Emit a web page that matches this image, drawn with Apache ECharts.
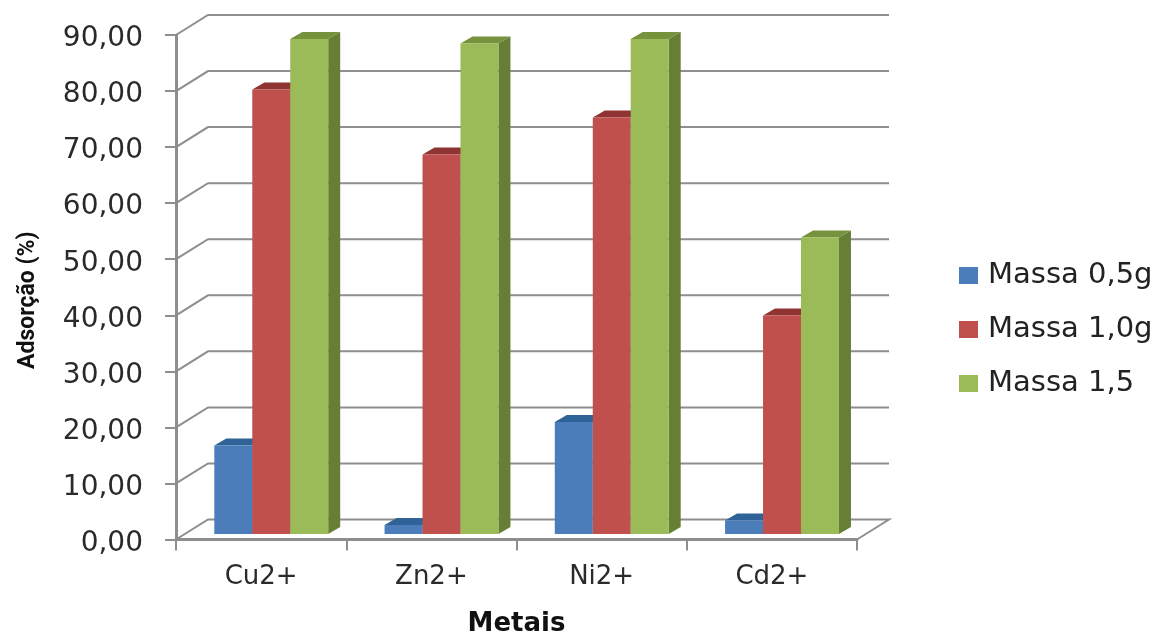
<!DOCTYPE html>
<html>
<head>
<meta charset="utf-8">
<style>html,body{margin:0;background:#fff}#c{width:1154px;height:634px}</style>
<script src="https://cdn.jsdelivr.net/npm/echarts@6/dist/echarts.min.js"></script>
</head>
<body>
<div id="c"></div>
<script>
// Metal adsorption by adsorbent mass
const metals = ['Cu2+', 'Zn2+', 'Ni2+', 'Cd2+'];
const massa05 = [15.8, 1.6, 20.0, 2.4];
const massa10 = [79.3, 67.7, 74.3, 39.0];
const massa15 = [88.3, 87.5, 88.3, 52.9];
const wallTicks = [0, 10, 20, 30, 40, 50, 60, 70, 80, 90];

const seriesNames = ['Massa 0,5g', 'Massa 1,0g', 'Massa 1,5'];
const seriesValues = [massa05, massa10, massa15];
const faces = [
  { front: '#4a7dba', top: '#2f6296', side: '#38608f' },
  { front: '#c0504d', top: '#8f3432', side: '#8f3432' },
  { front: '#9bbb59', top: '#76923c', side: '#667f35' }
];

// Oblique projection of the chart box
const WALL_DX = 32, WALL_DY = -20;
const BAR_DX = 12, BAR_DY = -7;
const FLOOR_LIFT = 5.5;
const GRID_COLOR = '#8e8e8e';

// Back wall gridlines plus the side-wall slant of each tick
function renderWall(params, api) {
  const v = api.value(0);
  const left = params.coordSys.x;
  const right = left + params.coordSys.width;
  const y = api.coord([0, v])[1];
  const style = { stroke: GRID_COLOR, lineWidth: 2, fill: null };
  const pts = [[left, y], [left + WALL_DX, y + WALL_DY], [right + WALL_DX, y + WALL_DY]];
  if (v === 0) pts.push([right, y]);
  return { type: 'polyline', shape: { points: pts }, style: style, silent: true };
}

function renderBar(seriesIdx) {
  return function (params, api) {
    const cat = api.value(0);
    const band = api.size([1, 0])[0];
    const w = band * 0.223;
    const center = api.coord([cat, 0])[0];
    const x0 = center - band * 0.275 + seriesIdx * w;
    const yBase = api.coord([cat, 0])[1] - FLOOR_LIFT;
    const yTop = api.coord([cat, api.value(1)])[1] - FLOOR_LIFT;
    const x1 = x0 + w;
    const f = faces[seriesIdx];
    return {
      type: 'group',
      children: [
        { type: 'polygon',
          shape: { points: [[x0, yTop], [x1, yTop], [x1 + BAR_DX, yTop + BAR_DY], [x0 + BAR_DX, yTop + BAR_DY]] },
          style: { fill: f.top } },
        { type: 'polygon',
          shape: { points: [[x1, yTop], [x1 + BAR_DX, yTop + BAR_DY], [x1 + BAR_DX, yBase + BAR_DY], [x1, yBase]] },
          style: { fill: f.side } },
        { type: 'rect',
          shape: { x: x0, y: yTop, width: w, height: yBase - yTop },
          style: { fill: f.front } }
      ]
    };
  };
}

const barSeries = seriesNames.map((name, i) => ({
  name: name,
  type: 'custom',
  z: 5 + i,
  itemStyle: { color: faces[i].front },
  renderItem: renderBar(i),
  encode: { x: 0, y: 1 },
  data: metals.map((m, k) => [k, seriesValues[i][k]])
}));

const chart = echarts.init(document.getElementById('c'), null, { renderer: 'canvas' });
chart.setOption({
  animation: false,
  backgroundColor: '#fff',
  grid: { left: 176, right: 297, top: 35, bottom: 94.5, containLabel: false, outerBoundsMode: 'none' },
  legend: {
    orient: 'vertical', left: 954, top: 256,
    icon: 'rect', itemWidth: 19, itemHeight: 17, itemGap: 25,
    data: seriesNames,
    textStyle: { fontFamily: 'DejaVu Sans', fontSize: 29, color: '#222', padding: [0, 0, 0, 5] }
  },
  xAxis: {
    type: 'category',
    data: metals,
    name: 'Metais',
    nameLocation: 'middle',
    nameGap: 72,
    nameTextStyle: { fontFamily: 'DejaVu Sans', fontWeight: 'bold', fontSize: 26, color: '#111' },
    axisLine: { lineStyle: { color: GRID_COLOR, width: 3 } },
    axisTick: { show: true, length: 11, alignWithLabel: false, lineStyle: { color: GRID_COLOR, width: 2 } },
    axisLabel: { fontFamily: 'DejaVu Sans', fontSize: 26, color: '#2a2a2a', margin: 25 },
    splitLine: { show: false }
  },
  yAxis: {
    type: 'value',
    min: 0, max: 90, interval: 10,
    name: 'Adsorção (%)',
    nameLocation: 'middle',
    nameRotate: 90,
    nameGap: 136,
    nameTextStyle: { fontFamily: 'Roboto', fontWeight: 'bold', fontSize: 23, color: '#111', padding: [0, 26, 0, 0] },
    axisLine: { show: true, lineStyle: { color: GRID_COLOR, width: 3 } },
    axisTick: { show: true, length: 11, lineStyle: { color: GRID_COLOR, width: 2 } },
    axisLabel: {
      fontFamily: 'DejaVu Sans', fontSize: 28, color: '#2a2a2a', margin: 33,
      verticalAlign: 'top', lineHeight: 8,
      formatter: v => v.toFixed(2).replace('.', ',')
    },
    splitLine: { show: false }
  },
  series: [{
    type: 'custom',
    z: 1,
    silent: true,
    renderItem: renderWall,
    encode: { y: 0 },
    data: wallTicks.map(v => [v])
  }].concat(barSeries)
});
</script>
</body>
</html>
